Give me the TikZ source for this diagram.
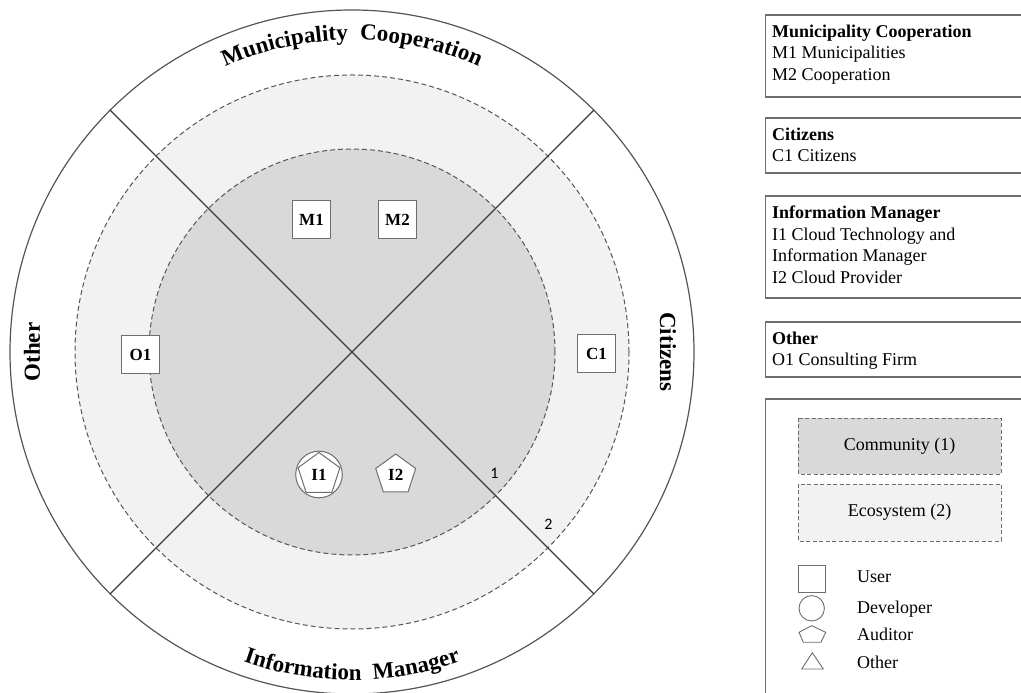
\documentclass[tikz,border=0pt]{standalone}
\usepackage{fontspec}
\setmainfont{Liberation Serif}
\newfontfamily\numfont{Carlito}
\usetikzlibrary{shapes.geometric,decorations.text}
\definecolor{commfill}{HTML}{D9D9D9}
\definecolor{ecofill}{HTML}{F2F2F2}
\definecolor{edgegray}{HTML}{6E6E6E}
\definecolor{linegray}{HTML}{3C3C3C}
\definecolor{ringgray}{HTML}{555555}
\newcommand\sectorfont{\fontsize{23}{23}\selectfont\bfseries}
\begin{document}
\begin{tikzpicture}[x=1pt,y=1pt,
  member/.style={draw=edgegray, fill=white, line width=1pt, minimum size=38pt,
    inner sep=0pt, font=\fontsize{17}{17}\selectfont\bfseries},
  auditorshape/.style={regular polygon, regular polygon sides=5, draw=edgegray,
    fill=white, line width=1pt, inner sep=0pt, minimum size=42pt,
    font=\fontsize{17}{17}\selectfont\bfseries},
  ringline/.style={draw=ringgray, line width=1pt, dash pattern=on 5pt off 3pt},
  sector/.style={font=\sectorfont, inner sep=0pt},
  infobox/.style={draw=edgegray, line width=1.2pt},
  boxtext/.style={anchor=base west, inner sep=0pt, font=\fontsize{18}{21.5}\selectfont},
  legendbox/.style={draw=edgegray, line width=0.9pt, dash pattern=on 4pt off 2.5pt},
  legendshape/.style={draw=edgegray, fill=white, line width=0.9pt},
  legendtext/.style={anchor=base west, inner sep=0pt, font=\fontsize{18}{18}\selectfont},
  ringnum/.style={font=\numfont\fontsize{16}{16}\selectfont, inner sep=0pt}]
\useasboundingbox (0,0) rectangle (1021,693);
\clip (0,0) rectangle (1021,693);

% ---- concentric rings ----
\coordinate (c) at (352,341);
\draw[draw=ringgray, line width=1.2pt, fill=white] (c) circle[radius=342pt];
\path[fill=ecofill] (c) circle[radius=277pt];
\draw[ringline] (c) circle[radius=277pt];
\path[fill=commfill] (c) circle[radius=203pt];
\draw[ringline] (c) circle[radius=203pt];

% ---- quadrant dividers ----
\coordinate (ne) at ([shift={(45:342pt)}]c);
\coordinate (nw) at ([shift={(135:342pt)}]c);
\coordinate (sw) at ([shift={(225:342pt)}]c);
\coordinate (se) at ([shift={(315:342pt)}]c);
\draw[linegray, line width=1.1pt] (nw) -- (se);
\draw[linegray, line width=1.1pt] (ne) -- (sw);

% ---- ring numbers ----
\node[ringnum] (r1) at (494.5,219.5) {1};
\node[ringnum] (r2) at (548.5,169) {2};

% ---- sector titles ----
\path[decorate, decoration={text along path, text align=center,
    text={|\sectorfont|Municipality {\kern6pt}Cooperation}}]
  ([shift={(125:312pt)}]c) arc[start angle=125, end angle=55, radius=312pt];
\path[decorate, decoration={text along path, text align=center,
    text={|\sectorfont|Information {\kern6pt}Manager}}]
  ([shift={(235:328pt)}]c) arc[start angle=235, end angle=305, radius=328pt];
\node[sector, rotate=90] (tother) at (32,341) {Other};
\node[sector, rotate=-90] (tcit) at (668,341) {Citizens};

% ---- stakeholders ----
\node[member] (m1) at (311.5,473) {M1};
\node[member] (m2) at (397.5,473) {M2};
\node[member] (o1) at (140.5,338.5) {O1};
\node[member] (c1) at (596.5,339) {C1};
\node[circle, draw=edgegray, fill=white, line width=1pt, minimum size=46.6pt, inner sep=0pt] (i1c) at (319,218.5) {};
\node[auditorshape, minimum size=44pt] (i1) at (319,218.5) {I1};
\node[auditorshape] (i2) at (395.7,218) {I2};

% ---- description boxes ----
\draw[infobox] (765.5,678) rectangle (1040,596);
\node[boxtext] (d1) at (772,655.7) {\begin{tabular}[t]{@{}l@{}}\textbf{Municipality Cooperation}\\ M1 Municipalities\\ M2 Cooperation\end{tabular}};
\draw[infobox] (765.5,575) rectangle (1040,520);
\node[boxtext] (d2) at (772,552.5) {\begin{tabular}[t]{@{}l@{}}\textbf{Citizens}\\ C1 Citizens\end{tabular}};
\draw[infobox] (765.5,497) rectangle (1040,395);
\node[boxtext] (d3) at (772,474) {\begin{tabular}[t]{@{}l@{}}\textbf{Information Manager}\\ I1 Cloud Technology and\\ Information Manager\\ I2 Cloud Provider\end{tabular}};
\draw[infobox] (765.5,371) rectangle (1040,316);
\node[boxtext] (d4) at (772,348.5) {\begin{tabular}[t]{@{}l@{}}\textbf{Other}\\ O1 Consulting Firm\end{tabular}};

% ---- legend ----
\draw[infobox] (765.5,294) rectangle (1040,-10);
\draw[legendbox, fill=commfill] (798,275) rectangle (1001,219);
\node[font=\fontsize{18}{18}\selectfont] (lcomm) at (899.5,247) {Community (1)};
\draw[legendbox, fill=ecofill] (798,209) rectangle (1001,152);
\node[font=\fontsize{18}{18}\selectfont] (leco) at (899.5,180.5) {Ecosystem (2)};

\node[legendshape, minimum size=27pt, inner sep=0pt] (lsq) at (811.7,113.8) {};
\node[legendshape, circle, minimum size=25.4pt, inner sep=0pt] (lci) at (811.7,84.7) {};
\draw[legendshape] (811.7,67.3) -- (825.7,60.7) -- (821,50.7) -- (803.3,50.7) -- (799,60.7) -- cycle;
\draw[legendshape] (812.3,40.3) -- (823.3,24) -- (801.7,24) -- cycle;
\node[legendtext] (luser) at (857,110.7) {User};
\node[legendtext] (ldev) at (857,79) {Developer};
\node[legendtext] (laud) at (857,52.3) {Auditor};
\node[legendtext] (loth) at (857,24) {Other};
\end{tikzpicture}
\end{document}
